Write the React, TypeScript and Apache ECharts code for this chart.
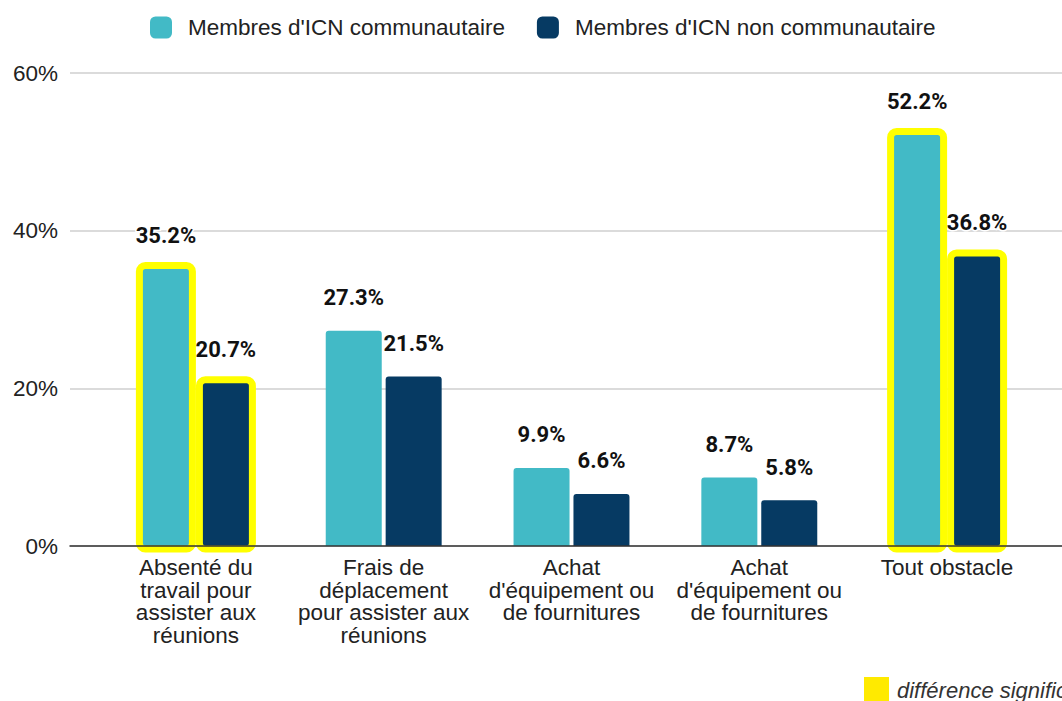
import React, { useEffect, useRef } from "react";
import * as echarts from "echarts";

const categories = [
  "Absenté du\ntravail pour\nassister aux\nréunions",
  "Frais de\ndéplacement\npour assister aux\nréunions",
  "Achat\nd'équipement ou\nde fournitures",
  "Achat\nd'équipement ou\nde fournitures",
  "Tout obstacle",
];
const seriesNames = ["Membres d'ICN communautaire", "Membres d'ICN non communautaire"];
const communautaire = [35.2, 27.3, 9.9, 8.7, 52.2];
const nonCommunautaire = [20.7, 21.5, 6.6, 5.8, 36.8];
const significant = [true, false, false, false, true];
const yTicks = { min: 0, max: 60, interval: 20 };
const noteText = "différence significative";

const TEAL = "#42bac6";
const NAVY = "#063a63";
const YELLOW = "#ffff00";
const AXIS_FONT = "'Liberation Sans', Arial, sans-serif";
const BAR_WIDTH = 56;
const BAR_OFFSET = 30;
const HL_WIDTH = 53;
const HL_STROKE = 7;

function buildData(values: number[], color: string) {
  return values.map((v) => ({
    value: v,
    itemStyle: { color, borderRadius: [3, 3, 0, 0] },
  }));
}

function highlightData() {
  const out: number[][] = [];
  significant.forEach((s, i) => {
    if (s) {
      out.push([i, communautaire[i], 0]);
      out.push([i, nonCommunautaire[i], 1]);
    }
  });
  return out;
}

export default function App() {
  const ref = useRef<HTMLDivElement>(null);
  useEffect(() => {
    if (!ref.current) return;
    const chart = echarts.init(ref.current, undefined, { renderer: "svg" });
    const label = {
      show: true,
      position: "top",
      distance: 22,
      formatter: (p: any) => p.value.toFixed(1) + "%",
      fontFamily: "Roboto, 'Liberation Sans', sans-serif",
      fontWeight: "bold",
      fontSize: 22,
      color: "#111",
      textBorderColor: "#fff",
      textBorderWidth: 3,
    };
    chart.setOption({
      animation: false,
      backgroundColor: "#fff",
      legend: {
        top: 11,
        left: 145,
        itemWidth: 22,
        itemHeight: 22,
        itemGap: 32,
        icon: "roundRect",
        textStyle: {
          fontFamily: AXIS_FONT,
          fontSize: 22.5,
          color: "#222",
          padding: [0, 0, 0, 11],
        },
        data: seriesNames,
      },
      grid: [
        { left: 70, right: 0, top: 73, bottom: 155, containLabel: false },
        { left: 102, width: 939, top: 73, bottom: 155, containLabel: false },
      ],
      xAxis: [
        {
          type: "category",
          gridIndex: 0,
          data: categories,
          z: 5,
          axisLine: { show: true, lineStyle: { color: "#333", width: 1.5 } },
          axisTick: { show: false },
          axisLabel: { show: false },
          splitLine: { show: false },
        },
        {
          type: "category",
          gridIndex: 1,
          data: categories,
          axisLine: { show: false },
          axisTick: { show: false },
          axisLabel: {
            interval: 0,
            margin: 10,
            fontFamily: AXIS_FONT,
            fontSize: 22.5,
            lineHeight: 22.7,
            color: "#222",
          },
        },
      ],
      yAxis: [
        {
          type: "value",
          gridIndex: 0,
          min: yTicks.min,
          max: yTicks.max,
          interval: yTicks.interval,
          axisLine: { show: false },
          axisTick: { show: false },
          axisLabel: {
            formatter: "{value}%",
            margin: 12,
            fontFamily: AXIS_FONT,
            fontSize: 22.5,
            color: "#222",
          },
          splitLine: { lineStyle: { color: "#cfcfcf", width: 1.5 } },
        },
        {
          type: "value",
          gridIndex: 1,
          min: yTicks.min,
          max: yTicks.max,
          interval: yTicks.interval,
          show: false,
          splitLine: { show: false },
        },
      ],
      series: [
        {
          name: seriesNames[0],
          type: "bar",
          xAxisIndex: 1,
          yAxisIndex: 1,
          barWidth: BAR_WIDTH,
          barGap: "7%",
          color: TEAL,
          data: buildData(communautaire, TEAL),
          label,
        },
        {
          name: seriesNames[1],
          type: "bar",
          xAxisIndex: 1,
          yAxisIndex: 1,
          barWidth: BAR_WIDTH,
          barGap: "7%",
          color: NAVY,
          data: buildData(nonCommunautaire, NAVY),
          label,
        },
        {
          name: "highlight",
          type: "custom",
          xAxisIndex: 1,
          yAxisIndex: 1,
          silent: true,
          z: 3,
          encode: { x: 0, y: 1 },
          data: highlightData(),
          renderItem: (params: any, api: any) => {
            const cat = api.value(0);
            const val = api.value(1);
            const slot = api.value(2);
            const top = api.coord([cat, val]);
            const base = api.coord([cat, 0]);
            const cx = top[0] + (slot === 0 ? -BAR_OFFSET : BAR_OFFSET);
            const y = top[1] - 3;
            return {
              type: "rect",
              shape: {
                x: cx - HL_WIDTH / 2,
                y,
                width: HL_WIDTH,
                height: base[1] + 3 - y,
                r: 6,
              },
              style: { fill: "none", stroke: YELLOW, lineWidth: HL_STROKE },
            };
          },
        },
      ],
      graphic: [
        {
          type: "rect",
          left: 864,
          top: 677,
          shape: { width: 25, height: 24 },
          style: { fill: "#ffea00" },
        },
        {
          type: "text",
          left: 897,
          top: 679,
          style: {
            text: noteText,
            fontFamily: AXIS_FONT,
            fontStyle: "italic",
            fontSize: 22,
            fill: "#333",
          },
        },
      ],
    });
    return () => chart.dispose();
  }, []);
  return (
    <div
      ref={ref}
      style={{ position: "fixed", left: 0, top: 0, width: 1062, height: 701 }}
    />
  );
}
